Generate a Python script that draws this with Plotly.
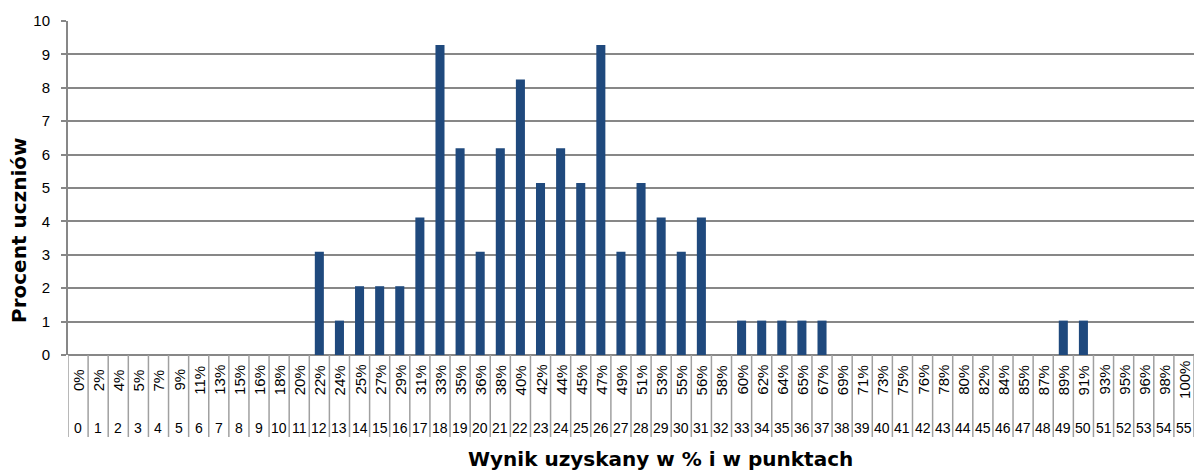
import plotly.graph_objects as go

points = list(range(56))
percent_labels = ["0%", "2%", "4%", "5%", "7%", "9%", "11%", "13%", "15%", "16%",
                  "18%", "20%", "22%", "24%", "25%", "27%", "29%", "31%", "33%", "35%",
                  "36%", "38%", "40%", "42%", "44%", "45%", "47%", "49%", "51%", "53%",
                  "55%", "56%", "58%", "60%", "62%", "64%", "65%", "67%", "69%", "71%",
                  "73%", "75%", "76%", "78%", "80%", "82%", "84%", "85%", "87%", "89%",
                  "91%", "93%", "95%", "96%", "98%", "100%"]
student_pct = [0, 0, 0, 0, 0, 0, 0, 0, 0, 0,
               0, 0, 3.09, 1.03, 2.06, 2.06, 2.06, 4.12, 9.28, 6.19,
               3.09, 6.19, 8.25, 5.15, 6.19, 5.15, 9.28, 3.09, 5.15, 4.12,
               3.09, 4.12, 0, 1.03, 1.03, 1.03, 1.03, 1.03, 0, 0,
               0, 0, 0, 0, 0, 0, 0, 0, 0, 1.03,
               1.03, 0, 0, 0, 0, 0]
y_ticks = list(range(0, 11))

FONT = "Liberation Sans, Arial, sans-serif"
TFONT = "DejaVu Sans, sans-serif"
W, H = 1194, 473
ML, MR, MT, MB = 68, 0, 21, 118
plot_h = H - MT - MB
plot_w = W - ML - MR

def py(pix):
    # pixel row -> paper y
    return (H - MB - pix) / plot_h

def px(pix):
    return (pix - ML) / plot_w

fig = go.Figure()
fig.add_trace(go.Bar(x=points, y=student_pct, marker=dict(color="#1F497D", line=dict(width=0)),
                     hoverinfo="x+y"))

annotations = []
shapes = []
for p, lab in zip(points, percent_labels):
    annotations.append(dict(x=p, y=py(380), xref="x", yref="paper", text=lab, showarrow=False,
                            textangle=-90, xanchor="center", yanchor="middle",
                            font=dict(family=FONT, size=15, color="#000000")))
    annotations.append(dict(x=p, y=py(428), xref="x", yref="paper", text=str(p), showarrow=False,
                            xanchor="center", yanchor="middle",
                            font=dict(family=FONT, size=14, color="#000000")))
for k in range(len(points) + 1):
    shapes.append(dict(type="line", xref="x", yref="paper", x0=k - 0.5, x1=k - 0.5,
                       y0=0, y1=py(437), line=dict(color="#A0A0A0", width=1.5)))

annotations.append(dict(x=px(660), y=py(459), xref="paper", yref="paper",
                        text="<b>Wynik uzyskany w % i w punktach</b>", showarrow=False,
                        xanchor="center", yanchor="middle",
                        font=dict(family=TFONT, size=20, color="#000000")))
annotations.append(dict(x=px(19), y=py(230), xref="paper", yref="paper",
                        text="<b>Procent uczniów</b>", showarrow=False, textangle=-90,
                        xanchor="center", yanchor="middle",
                        font=dict(family=TFONT, size=20, color="#000000")))

fig.update_layout(
    width=W, height=H,
    margin=dict(l=ML, r=MR, t=MT, b=MB),
    paper_bgcolor="white", plot_bgcolor="white",
    bargap=0.55, showlegend=False,
    annotations=annotations, shapes=shapes,
    xaxis=dict(range=[-0.5, 55.5], showticklabels=False, showgrid=False, zeroline=False,
               showline=False, fixedrange=True),
    yaxis=dict(range=[0, 10], tickvals=y_ticks, showgrid=True, gridcolor="#878787", gridwidth=2,
               zeroline=True, zerolinecolor="#878787", zerolinewidth=2,
               showline=True, linecolor="#878787", linewidth=2,
               ticks="outside", ticklen=5, tickcolor="#878787", tickwidth=2,
               ticklabelstandoff=8,
               tickfont=dict(family=FONT, size=15, color="#000000"), fixedrange=True),
)

fig.write_html("out.html", config={"displayModeBar": False},
               post_script="document.body.style.margin='0';document.body.style.padding='0';")
